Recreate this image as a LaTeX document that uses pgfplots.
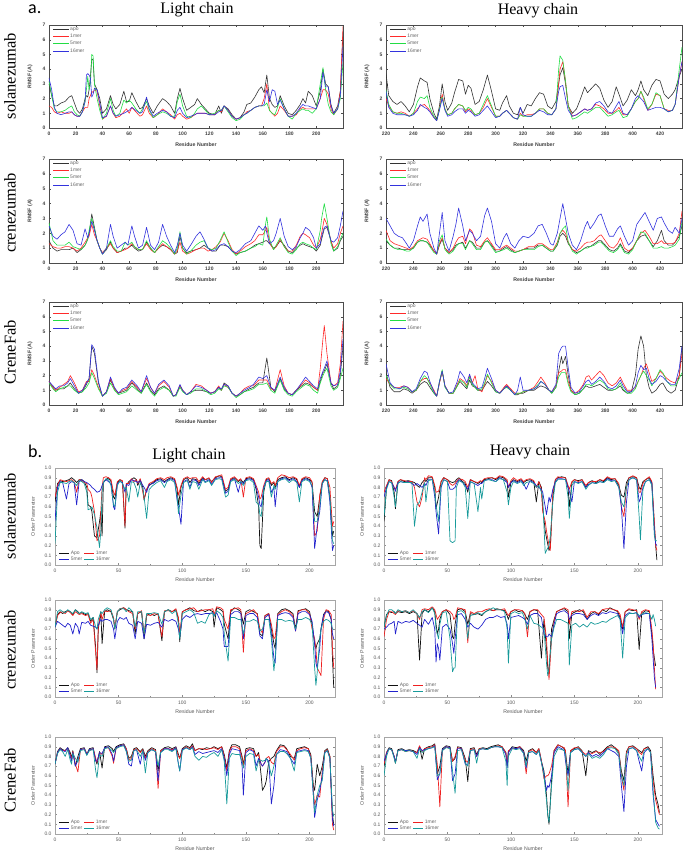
\documentclass[border=0pt]{standalone}
\usepackage{pgfplots}
\usepackage{pgfplotstable}
\pgfplotsset{compat=1.18}
\usepackage{fontspec}
\newfontfamily\fSerif{Liberation Serif}
\newfontfamily\fSans{Liberation Sans}
\newfontfamily\fCal{Carlito}
\definecolor{aApo}{HTML}{333333}
\definecolor{aMa}{HTML}{FF2A2A}
\definecolor{aMb}{HTML}{22DD44}
\definecolor{aMc}{HTML}{3333DD}
\definecolor{bApo}{HTML}{111111}
\definecolor{bMa}{HTML}{EE2020}
\definecolor{bMb}{HTML}{2222CC}
\definecolor{bMc}{HTML}{179A9A}

\pgfplotsset{
 rmsf/.style={
  scale only axis, clip=true,
  ymin=0, ymax=7, ytick={0,1,2,3,4,5,6,7},
  axis line style={draw=black!70, line width=0.4pt},
  tick style={draw=black!70, line width=0.4pt},
  major tick length=1.8pt, tick align=inside,
  tick label style={font=\fSans\bfseries\fontsize{5}{6}\selectfont, text=black!75},
  /pgf/number format/assume math mode=true,
  xlabel={Residue Number}, ylabel={RMSF (A)},
  label style={font=\fSans\bfseries\fontsize{5.2}{6}\selectfont, text=black!75},
  ylabel style={at={(axis description cs:0,0.5)}, anchor=center, yshift=19pt},
  xlabel style={at={(axis description cs:0.5,0)}, anchor=center, yshift=-17pt},
  legend style={at={(axis description cs:0.012,0.985)}, anchor=north west, draw=none, fill=none,
    inner sep=0pt, row sep=1.2pt, font=\fSans\fontsize{5}{5.5}\selectfont,
    nodes={text=black!60, inner sep=0.6pt}},
  legend cell align=left,
  legend image code/.code={\draw[##1, line width=0.9pt] (0pt,0pt) -- (16pt,0pt);},
  every axis plot/.append style={line width=0.6pt, line join=round},
 },
 ordp/.style={
  scale only axis, clip=true,
  ymin=0, ymax=1, ytick={0,0.1,0.2,0.3,0.4,0.5,0.6,0.7,0.8,0.9,1},
  yticklabel style={/pgf/number format/.cd, fixed, fixed zerofill, precision=1},
  xtick={0,50,100,150,200}, minor xtick={25,75,125,175},
  axis line style={draw=black!35, line width=0.4pt},
  tick style={draw=black!45, line width=0.4pt},
  major tick length=2pt, minor tick length=1.2pt, tick align=inside,
  tick label style={font=\fSans\fontsize{5}{6}\selectfont, text=black!65},
  /pgf/number format/assume math mode=true,
  xlabel={Residue Number}, ylabel={Order Parameter},
  label style={font=\fSans\fontsize{5.2}{6}\selectfont, text=black!65},
  ylabel style={at={(axis description cs:0,0.5)}, anchor=center, yshift=22pt},
  xlabel style={at={(axis description cs:0.5,0)}, anchor=center, yshift=-15pt},
  legend columns=2,
  legend style={at={(axis description cs:0.012,0.025)}, anchor=south west, draw=none, fill=none,
    inner sep=0pt, row sep=0pt, column sep=0.8pt, font=\fSans\fontsize{5}{5.5}\selectfont,
    nodes={text=black!60, inner sep=0.6pt}},
  legend cell align=left,
  legend image code/.code={\draw[##1, line width=0.9pt] (0pt,0pt) -- (10pt,0pt);},
  every axis plot/.append style={line width=0.7pt, line join=round},
 },
}

\newcommand\aplots[1]{%
\addplot[aApo] table[x=x,y=a]{#1};\addlegendentry{apo}
\addplot[aMa] table[x=x,y=b]{#1};\addlegendentry{1mer}
\addplot[aMb] table[x=x,y=c]{#1};\addlegendentry{5mer}
\addplot[aMc] table[x=x,y=d]{#1};\addlegendentry{16mer}}
\newcommand\bplots[1]{%
\addplot[bApo] table[x=x,y=a]{#1};\addlegendentry{Apo}
\addplot[bMa] table[x=x,y=b]{#1};\addlegendentry{1mer}
\addplot[bMb] table[x=x,y=c]{#1};\addlegendentry{5mer}
\addplot[bMc] table[x=x,y=d]{#1};\addlegendentry{16mer}}

\pgfplotstableread{
x a b c d
0 3.0 1.5 3.2 3.4
2 2.2 1.4 2.2 2.6
4 1.5 1.1 1.3 1.4
6 1.5 1.0 1.1 1.0
9 1.7 1.1 1.1 0.9
12 1.8 1.0 1.2 1.0
15 2.1 1.0 1.4 1.1
17 2.2 1.1 1.5 1.1
19 1.7 0.9 1.1 0.9
21 1.2 0.8 0.9 0.8
23 1.0 0.8 0.8 0.8
25 1.3 1.1 1.1 1.1
27 2.0 1.4 1.8 1.8
28 2.2 1.4 2.6 3.6
29 2.1 1.4 3.5 3.7
30 2.6 2.0 2.6 3.6
31 3.5 2.2 3.0 3.4
32 4.7 2.5 5.0 2.1
33 4.6 2.4 4.9 2.3
34 3.0 2.6 3.0 2.7
36 2.6 2.5 2.0 2.6
38 2.0 1.5 1.2 1.7
40 1.0 0.6 0.6 0.7
43 1.3 0.8 1.0 0.8
46 2.2 1.5 2.0 1.5
48 1.6 1.0 1.2 1.0
50 1.3 0.7 0.8 0.8
53 1.6 0.8 1.0 0.9
56 2.5 1.1 1.9 1.0
58 1.8 1.3 1.7 1.1
60 1.8 1.0 1.9 1.2
62 2.4 1.4 1.7 1.4
65 1.8 1.1 1.3 1.2
68 1.3 0.8 1.0 1.0
70 1.4 0.9 1.3 1.1
73 2.0 1.5 1.8 2.1
75 1.5 1.0 1.2 1.3
78 1.0 0.7 0.7 0.8
81 1.5 0.9 0.9 1.0
85 2.0 1.3 1.1 1.2
88 1.8 1.1 1.0 1.1
91 1.5 0.9 0.8 0.8
94 1.0 0.6 0.8 0.7
96 2.0 0.9 1.8 1.2
98 2.7 1.0 2.3 1.4
100 2.0 0.8 1.5 1.0
103 1.2 0.6 0.8 0.7
106 1.4 0.7 0.7 0.8
109 1.6 0.9 1.0 0.9
111 2.0 1.0 1.3 1.0
114 1.6 1.0 1.5 1.0
117 1.3 1.0 1.2 1.0
120 1.0 0.9 0.9 0.9
124 0.9 0.9 1.0 0.9
127 1.5 1.2 1.2 1.1
129 1.0 1.1 1.2 1.2
131 1.5 1.5 1.5 1.5
134 1.3 1.2 1.1 1.2
137 0.9 0.8 0.7 0.8
140 0.6 0.6 0.5 0.6
143 0.7 0.7 0.6 0.7
146 1.1 0.9 0.9 0.9
148 1.6 1.1 1.0 1.0
151 1.7 1.2 1.2 1.2
154 2.1 1.4 1.4 1.4
157 2.6 1.5 1.5 1.5
159 2.8 1.5 1.5 1.5
161 2.4 2.0 1.5 1.6
163 3.6 3.0 1.7 2.6
165 2.0 1.2 1.2 1.8
167 1.6 1.0 1.0 2.6
169 1.4 0.8 0.9 2.5
171 1.5 1.0 1.4 1.6
173 2.2 1.5 2.0 1.9
176 1.5 1.2 1.3 1.3
179 1.0 0.8 0.8 0.8
182 0.9 0.8 0.6 0.8
185 1.2 0.9 1.0 1.0
188 1.6 1.3 1.2 1.4
190 2.0 1.4 1.3 1.6
192 1.7 1.3 1.2 1.5
194 2.5 1.3 1.2 1.5
197 2.2 1.3 1.0 1.4
200 1.5 1.3 1.3 1.3
203 2.5 2.0 3.0 2.0
205 4.0 2.6 4.1 3.8
207 3.0 2.6 2.6 2.8
209 2.8 2.3 1.6 2.8
211 1.6 1.3 1.1 1.5
213 1.0 0.9 0.9 1.0
216 1.5 1.3 1.3 1.3
218 2.5 2.5 2.0 2.2
220 6.5 6.9 4.5 5.5
}\tAaL

\pgfplotstableread{
x a b c d
220 3.7 2.0 2.6 2.5
222 2.2 1.5 1.6 1.4
225 1.8 1.1 1.1 1.0
228 1.6 1.0 1.0 0.9
231 1.8 1.1 1.0 0.9
234 1.5 1.0 0.9 0.9
237 1.1 0.8 0.8 0.8
240 1.6 1.0 1.0 0.9
243 2.8 1.3 1.8 1.2
245 3.4 1.5 2.1 1.6
248 3.2 1.6 2.0 1.4
250 3.1 1.4 2.2 1.3
252 2.0 1.2 1.4 1.1
255 1.0 0.7 0.8 0.7
257 0.6 0.5 0.5 0.5
259 1.5 1.3 1.3 1.2
261 3.0 2.3 2.1 2.0
263 1.8 1.3 1.3 1.2
265 1.2 0.9 0.9 0.8
268 1.7 1.0 1.0 0.9
270 2.4 1.3 1.3 1.1
273 3.3 1.6 1.6 1.3
276 3.2 1.5 1.5 1.3
278 2.3 1.1 1.2 1.0
280 2.9 1.3 1.4 1.2
282 2.7 1.2 1.3 1.1
285 1.6 0.9 0.9 0.8
288 1.8 1.0 1.0 0.9
291 2.6 1.4 1.6 1.2
294 3.6 2.0 2.2 1.5
297 2.5 1.4 1.5 1.1
300 1.3 0.8 0.8 0.7
303 1.2 0.8 0.8 0.8
305 1.7 1.0 1.0 1.0
308 2.2 1.2 1.2 1.2
310 1.5 1.0 1.0 1.0
313 1.0 0.7 0.7 0.7
316 0.9 0.6 0.6 0.6
318 1.4 1.0 0.9 1.4
320 1.0 0.8 0.8 0.9
323 1.6 0.9 0.8 0.8
326 1.5 0.9 0.8 0.8
329 2.0 1.0 1.0 1.0
332 2.4 1.3 1.3 1.2
335 2.3 1.3 1.3 1.1
338 1.5 1.0 1.0 0.9
341 1.3 0.9 0.9 0.9
344 1.8 1.3 1.3 1.3
346 3.0 3.0 4.0 2.5
347 3.6 4.0 4.9 2.8
349 4.1 4.5 4.6 2.9
351 3.0 3.2 3.2 2.0
353 1.5 1.5 1.5 1.2
356 1.0 0.8 0.6 0.8
359 1.3 0.9 0.7 0.9
362 2.0 1.1 0.9 1.1
365 2.8 1.3 1.1 1.3
367 2.4 1.2 1.0 1.2
370 2.7 1.3 1.2 1.3
373 3.0 1.6 1.4 1.7
376 2.7 1.5 1.4 1.8
379 1.9 1.3 1.1 1.5
382 1.4 1.0 0.8 1.1
385 1.8 1.0 0.9 1.0
388 2.8 1.2 1.1 1.5
390 2.3 1.4 1.2 1.8
393 1.5 0.9 0.7 1.0
396 1.9 0.9 0.8 0.9
399 2.6 1.3 1.3 1.3
402 2.2 1.8 1.8 2.0
404 2.6 2.0 2.0 2.2
406 3.2 2.5 2.5 2.0
408 2.6 2.0 2.1 1.8
411 2.2 1.2 1.3 1.2
414 2.9 1.6 1.6 1.3
417 3.3 2.3 2.4 1.4
420 3.2 2.2 2.2 1.4
423 2.3 1.3 1.3 1.3
426 2.0 1.2 1.1 1.1
429 2.3 1.2 1.2 1.2
431 2.6 1.6 1.6 1.6
434 3.5 3.5 4.0 3.5
436 4.0 4.5 5.5 4.5
}\tAaH

\pgfplotstableread{
x a b c d
0 1.5 1.3 2.7 2.5
3 1.0 1.1 1.5 1.8
6 0.8 1.0 1.2 1.6
9 0.9 1.0 1.2 1.9
12 0.9 1.1 1.2 2.1
15 0.9 1.1 1.4 2.6
18 1.0 1.0 1.1 2.2
21 0.7 0.8 1.0 1.3
24 0.9 1.0 0.9 1.2
27 1.2 1.4 1.2 2.3
29 1.6 1.7 1.6 1.7
30 2.0 1.8 2.2 2.0
32 3.3 2.6 3.0 2.8
34 2.4 1.9 2.3 2.2
36 1.5 1.5 1.5 1.5
38 1.0 1.0 1.0 1.0
40 0.6 0.7 0.6 0.6
43 0.9 1.0 1.0 1.0
46 1.4 1.3 1.5 2.6
48 1.0 1.0 1.1 1.8
51 0.7 0.7 0.8 1.0
54 0.8 0.8 0.8 1.2
57 1.0 0.9 1.4 1.4
59 1.0 1.0 1.2 1.2
62 1.2 1.3 1.4 2.5
64 1.0 1.1 1.1 1.8
67 0.8 0.9 0.9 1.0
70 0.9 0.9 0.9 1.2
73 1.4 1.3 1.5 2.4
76 1.0 0.9 1.0 1.2
79 0.7 0.7 0.7 0.9
82 1.0 1.0 1.1 1.4
85 1.2 1.3 1.5 2.6
88 1.1 1.1 1.3 1.8
91 0.9 0.9 1.0 1.2
94 0.6 0.6 0.6 0.7
96 0.7 0.8 1.0 1.2
98 1.8 1.4 2.1 2.0
100 1.0 0.8 1.0 1.2
103 0.7 0.6 0.6 0.8
106 0.8 0.7 0.8 1.2
110 0.9 0.9 1.2 1.8
113 1.0 1.0 1.4 2.1
116 1.2 1.0 1.5 1.6
119 1.0 0.8 1.0 1.0
122 0.8 0.9 0.9 0.8
125 0.8 1.1 1.0 0.9
128 1.2 1.4 1.5 1.2
131 1.2 2.0 2.1 1.3
134 1.1 1.5 1.4 1.1
137 0.8 0.9 0.8 0.8
140 0.6 0.6 0.5 0.7
143 0.7 0.8 0.7 0.9
147 0.8 1.1 0.8 1.3
151 1.0 1.3 1.0 1.5
154 1.2 1.5 1.1 2.0
157 1.3 1.9 1.3 2.5
160 1.4 1.9 1.2 2.2
162 1.5 2.2 2.6 2.5
163 1.5 2.4 3.1 2.0
165 1.3 1.4 1.6 1.3
168 1.0 0.9 0.9 1.5
170 1.1 1.1 1.2 2.0
173 1.5 1.6 1.7 3.0
176 1.2 1.1 1.1 1.8
179 0.8 0.8 0.7 1.1
182 0.7 0.8 0.6 0.9
185 1.0 1.2 0.9 1.1
188 1.2 1.8 1.3 1.7
190 1.3 2.0 1.4 2.0
192 1.2 1.9 1.3 2.4
195 1.1 1.7 1.2 2.2
198 1.0 1.2 1.0 1.7
200 0.8 1.0 0.9 1.0
203 1.2 1.6 2.2 1.3
204 1.6 2.0 3.0 1.8
206 2.3 3.0 4.0 2.4
208 2.4 2.6 3.0 2.5
211 1.5 1.5 1.3 1.5
213 0.8 1.0 0.8 1.4
216 1.0 1.3 1.1 1.7
218 1.5 2.0 1.6 2.5
220 1.8 2.5 2.0 3.5
}\tAbL

\pgfplotstableread{
x a b c d
220 1.5 2.2 1.6 3.0
223 1.2 1.5 1.2 2.5
226 1.0 1.3 1.0 2.0
229 1.0 1.2 0.9 1.8
232 0.9 1.1 0.9 1.7
235 0.9 1.0 0.8 1.3
237 0.9 0.9 0.8 1.0
240 1.0 1.1 1.0 1.5
243 1.4 1.5 1.4 2.5
245 1.5 1.6 1.5 3.1
247 1.5 1.7 1.5 2.8
250 1.4 1.6 1.4 3.3
252 1.2 1.3 1.1 2.0
255 0.8 0.8 0.7 1.0
257 0.6 0.6 0.6 0.6
259 1.2 1.3 1.5 2.0
261 1.6 1.7 1.9 3.4
263 1.0 1.0 0.9 1.5
266 0.7 0.7 0.6 0.8
269 0.9 1.0 0.8 1.8
271 1.2 1.4 1.1 2.6
273 1.3 1.7 1.3 3.7
276 1.4 1.8 1.3 2.5
278 1.0 1.3 0.9 1.5
281 1.5 2.3 1.5 2.2
283 1.4 2.1 1.3 2.0
286 1.0 1.2 0.9 1.5
289 1.0 1.1 0.9 1.8
292 1.4 1.5 1.4 3.2
294 1.5 1.7 1.5 3.7
297 1.2 1.3 1.1 2.8
300 0.8 0.9 0.7 1.3
303 0.8 0.9 0.8 1.0
306 1.0 1.1 0.9 1.7
308 1.1 1.2 1.0 2.0
311 0.9 1.0 0.8 1.3
314 0.7 0.8 0.7 1.0
317 0.8 0.8 0.8 1.5
320 0.9 0.9 0.9 1.8
324 1.0 1.1 0.9 1.7
328 1.0 1.1 0.9 2.0
331 1.2 1.3 1.1 2.5
334 1.2 1.3 1.2 2.6
337 1.0 1.1 1.0 2.0
340 0.8 0.9 0.8 1.3
342 0.8 0.9 0.8 1.2
345 1.2 1.4 1.3 2.0
347 1.8 2.0 2.0 3.0
349 2.0 2.2 2.3 4.0
351 1.8 2.0 2.5 3.0
353 1.3 1.4 1.4 2.0
356 0.9 0.9 0.8 1.2
359 0.7 0.8 0.6 0.9
362 0.8 1.0 0.8 1.5
365 1.0 1.3 1.0 2.4
367 1.1 1.4 1.0 2.8
369 1.1 1.4 1.1 2.3
372 1.3 1.5 1.2 2.7
375 1.5 1.8 1.4 3.2
377 1.5 1.9 1.4 3.3
380 1.2 1.5 1.1 2.5
383 0.9 1.1 0.8 1.8
386 0.8 1.0 0.7 1.8
389 1.0 1.3 0.9 2.3
391 1.3 1.7 1.2 2.5
394 0.8 1.0 0.7 1.8
397 0.7 0.8 0.6 1.2
400 1.0 1.0 0.9 1.5
403 1.5 1.5 1.5 2.6
406 1.8 2.0 2.1 3.0
409 1.9 2.2 2.0 3.4
412 1.5 1.8 1.5 2.8
415 1.1 1.3 1.0 2.2
418 1.5 1.3 1.0 3.0
421 2.2 1.5 1.1 3.1
423 1.5 1.3 1.0 2.7
426 1.2 1.3 1.0 2.2
429 1.2 1.3 1.1 2.0
431 1.4 1.4 1.2 2.4
434 1.8 2.0 1.6 2.0
436 2.5 3.5 2.8 3.0
}\tAbH

\pgfplotstableread{
x a b c d
0 1.6 1.6 1.5 1.6
3 1.2 1.2 1.1 1.3
5 1.0 1.0 0.9 1.1
8 1.1 1.2 1.1 1.3
11 1.1 1.4 1.2 1.3
14 1.3 1.6 1.3 1.5
16 1.5 2.0 1.3 1.8
19 1.1 1.5 1.0 1.3
22 0.8 0.9 0.8 0.8
25 0.9 1.0 0.9 1.0
28 1.4 1.6 1.2 1.5
30 1.8 1.6 1.5 1.8
32 4.0 2.4 2.2 4.1
34 3.5 2.0 1.8 3.8
37 1.5 1.2 1.1 1.6
40 0.6 0.6 0.6 0.6
43 0.9 0.9 0.8 0.9
46 1.7 1.8 1.5 1.9
49 1.1 1.1 1.0 1.2
52 0.8 0.8 0.7 0.8
55 0.9 1.0 0.8 1.1
58 1.0 1.1 0.9 1.2
62 1.5 1.6 1.3 1.7
66 1.1 1.2 1.0 1.3
69 0.8 0.9 0.8 0.9
73 1.5 1.8 1.4 2.0
76 1.0 1.2 0.9 1.2
79 0.7 0.8 0.6 0.8
82 1.1 1.3 1.0 1.4
86 1.3 1.6 1.2 1.7
90 1.0 1.2 1.0 1.3
93 0.6 0.6 0.6 0.6
95 0.7 0.7 0.6 0.7
98 1.3 1.3 1.2 1.4
100 1.0 1.0 0.9 1.0
103 0.7 0.7 0.7 0.7
106 0.9 0.9 0.8 0.9
110 1.0 1.4 1.1 1.3
114 1.0 1.3 1.1 1.2
118 0.9 1.0 0.9 1.0
121 0.8 0.8 0.7 0.8
124 0.9 0.9 0.8 0.9
127 1.2 1.3 1.1 1.2
129 1.0 1.0 1.0 1.1
131 1.5 1.4 1.3 1.4
134 1.3 1.2 1.2 1.3
137 0.8 0.8 0.8 0.8
140 0.6 0.6 0.5 0.6
143 0.7 0.8 0.7 0.8
146 0.9 1.1 0.9 1.0
150 1.1 1.3 1.0 1.2
153 1.2 1.3 1.1 1.4
157 1.5 1.7 1.4 1.9
160 1.5 1.7 1.4 1.8
163 3.2 1.7 1.5 2.0
166 1.2 1.1 1.0 1.2
169 0.9 1.0 0.8 1.0
173 1.8 2.4 1.7 1.9
176 1.1 1.3 1.0 1.2
179 0.8 0.8 0.7 0.8
182 0.7 0.7 0.6 0.7
185 1.0 1.0 0.9 1.0
189 1.3 1.4 1.2 1.5
192 1.5 1.7 1.4 1.9
195 1.4 1.5 1.3 1.6
198 1.2 1.2 1.0 1.3
201 1.0 1.0 0.8 1.1
203 1.6 2.5 1.5 1.8
205 2.2 4.5 2.0 2.3
206 2.3 5.4 2.2 2.5
208 2.8 3.5 2.5 3.0
211 1.5 1.5 1.3 1.5
213 1.1 1.3 1.0 1.3
216 1.3 1.5 1.2 1.4
218 2.0 2.8 1.8 2.3
220 4.0 5.7 2.5 4.5
}\tAcL

\pgfplotstableread{
x a b c d
220 2.2 1.8 2.0 2.8
223 1.2 1.4 1.4 1.5
226 0.9 1.2 1.1 1.2
230 0.9 1.2 1.1 1.1
233 1.1 1.3 1.2 1.3
236 1.0 1.2 1.1 1.2
239 0.8 0.9 0.9 0.9
242 1.0 1.0 1.0 1.1
245 1.4 1.6 1.6 1.8
248 1.6 1.8 2.0 2.3
250 1.5 1.8 1.8 2.2
252 1.2 1.5 1.4 1.6
255 0.8 1.0 0.8 0.9
257 0.6 0.6 0.6 0.6
259 1.5 1.5 1.6 1.6
261 2.3 2.3 2.4 2.3
263 1.3 1.3 1.2 1.3
266 0.8 0.8 0.8 0.8
269 0.8 0.8 0.8 0.9
272 1.3 1.4 1.3 1.6
274 1.6 1.8 1.7 2.3
277 1.3 1.6 1.5 1.9
279 1.1 1.3 1.2 1.5
281 1.7 2.0 1.9 2.1
283 1.3 1.5 1.4 1.5
285 1.2 2.0 1.2 1.3
287 1.0 1.1 1.0 1.1
290 1.0 0.9 1.1 1.2
292 1.3 1.4 1.5 1.8
294 1.6 2.0 2.1 2.5
297 1.3 1.6 1.5 1.8
300 0.9 1.0 0.9 1.0
303 0.8 0.8 0.8 0.8
306 1.1 1.2 1.1 1.1
308 1.3 1.4 1.2 1.3
311 1.0 1.1 1.0 1.0
314 0.7 0.8 0.7 0.7
316 0.7 0.8 0.8 1.0
318 0.8 0.8 0.8 1.9
320 0.8 0.9 0.9 1.0
324 1.0 1.0 1.0 1.0
328 1.0 1.2 1.1 1.1
331 1.2 1.6 1.4 1.3
333 1.3 1.9 1.6 1.6
336 1.2 1.5 1.4 1.4
339 1.0 1.0 1.0 1.0
341 0.8 0.9 0.8 0.9
344 1.2 1.3 1.2 1.4
346 2.3 2.2 1.9 3.5
348 3.3 2.3 2.2 3.9
349 2.8 2.4 2.2 4.0
351 3.3 2.4 2.2 4.0
353 2.0 1.6 1.4 2.5
355 1.0 1.0 0.9 1.2
358 0.7 0.8 0.7 0.8
361 0.8 1.0 0.8 0.9
364 1.1 1.4 1.1 1.3
366 1.3 1.9 1.4 1.6
368 1.2 2.0 1.4 1.7
370 1.2 1.7 1.3 1.4
373 1.3 2.0 1.5 1.6
376 1.4 2.3 1.7 1.9
379 1.2 2.0 1.5 1.6
382 1.0 1.5 1.1 1.2
385 1.0 1.3 1.0 1.1
388 1.1 1.5 1.1 1.3
391 1.3 1.9 1.5 1.7
393 1.0 1.5 1.1 1.3
396 0.8 1.0 0.8 0.9
399 0.9 1.0 0.8 0.9
402 2.0 1.2 1.1 1.3
404 3.8 1.6 1.6 2.2
406 4.7 2.0 2.0 2.7
408 4.0 2.5 2.3 2.4
410 2.0 2.8 2.0 2.5
412 1.2 2.2 1.7 1.8
414 0.8 1.6 1.3 1.4
417 1.0 1.8 1.8 1.6
420 1.4 2.3 2.4 2.0
422 1.5 2.1 2.2 1.9
425 1.0 1.8 1.6 1.6
428 0.8 1.6 1.3 1.4
431 1.0 1.5 1.3 1.4
434 2.0 2.0 1.8 2.5
436 4.0 3.5 2.2 4.0
}\tAcH

\pgfplotstableread{
x a b c d
0 0.65 0.70 0.45 0.22
2 0.84 0.82 0.80 0.75
4 0.87 0.88 0.86 0.85
6 0.86 0.87 0.85 0.85
9 0.87 0.86 0.68 0.84
11 0.88 0.87 0.84 0.86
13 0.90 0.88 0.86 0.87
15 0.88 0.86 0.85 0.85
17 0.85 0.75 0.62 0.82
19 0.88 0.88 0.86 0.87
21 0.88 0.87 0.88 0.86
23 0.86 0.85 0.86 0.84
25 0.80 0.84 0.85 0.75
26 0.62 0.78 0.84 0.57
28 0.60 0.75 0.82 0.58
29 0.55 0.70 0.80 0.60
31 0.30 0.55 0.78 0.52
33 0.28 0.25 0.75 0.38
35 0.45 0.30 0.76 0.18
36 0.55 0.55 0.78 0.35
37 0.30 0.80 0.82 0.75
38 0.85 0.90 0.85 0.85
40 0.88 0.91 0.88 0.89
42 0.90 0.90 0.86 0.88
44 0.86 0.88 0.84 0.82
46 0.70 0.75 0.60 0.62
47 0.68 0.72 0.57 0.60
49 0.85 0.86 0.84 0.82
51 0.88 0.88 0.86 0.87
53 0.86 0.87 0.85 0.84
55 0.38 0.40 0.75 0.78
56 0.82 0.84 0.83 0.80
58 0.86 0.84 0.82 0.65
60 0.88 0.89 0.88 0.86
62 0.90 0.86 0.87 0.85
64 0.88 0.88 0.86 0.78
65 0.82 0.84 0.85 0.70
67 0.88 0.89 0.87 0.85
69 0.80 0.75 0.82 0.78
70 0.67 0.68 0.80 0.70
72 0.78 0.78 0.75 0.48
74 0.82 0.84 0.83 0.78
77 0.85 0.86 0.84 0.82
80 0.88 0.89 0.87 0.85
83 0.89 0.90 0.88 0.87
86 0.86 0.88 0.85 0.80
88 0.88 0.90 0.87 0.86
91 0.90 0.91 0.89 0.88
94 0.88 0.89 0.87 0.85
96 0.78 0.80 0.66 0.70
97 0.62 0.72 0.60 0.53
99 0.80 0.82 0.42 0.72
101 0.88 0.89 0.86 0.85
104 0.90 0.91 0.88 0.87
106 0.85 0.89 0.80 0.78
108 0.89 0.90 0.88 0.86
111 0.88 0.90 0.87 0.85
113 0.84 0.86 0.82 0.78
116 0.90 0.91 0.89 0.88
118 0.88 0.88 0.86 0.85
121 0.89 0.90 0.88 0.87
123 0.86 0.85 0.83 0.82
126 0.90 0.91 0.89 0.88
129 0.92 0.92 0.90 0.89
131 0.91 0.93 0.90 0.88
134 0.76 0.78 0.74 0.70
136 0.78 0.80 0.76 0.72
138 0.88 0.89 0.87 0.86
141 0.90 0.91 0.89 0.88
144 0.86 0.87 0.75 0.84
146 0.88 0.89 0.86 0.86
148 0.85 0.70 0.84 0.82
150 0.89 0.90 0.88 0.87
153 0.90 0.91 0.89 0.88
156 0.88 0.89 0.87 0.85
158 0.78 0.82 0.80 0.65
160 0.60 0.75 0.70 0.62
161 0.20 0.68 0.62 0.52
162 0.17 0.70 0.60 0.50
164 0.75 0.82 0.80 0.78
166 0.88 0.89 0.87 0.86
168 0.89 0.90 0.88 0.86
170 0.82 0.84 0.75 0.70
172 0.85 0.86 0.80 0.82
173 0.80 0.82 0.60 0.78
175 0.88 0.90 0.86 0.86
178 0.90 0.93 0.89 0.88
181 0.91 0.92 0.90 0.89
184 0.88 0.90 0.87 0.85
187 0.90 0.91 0.89 0.88
190 0.88 0.89 0.86 0.85
192 0.80 0.82 0.80 0.65
194 0.88 0.89 0.87 0.86
197 0.90 0.91 0.89 0.88
200 0.88 0.90 0.87 0.86
202 0.85 0.86 0.80 0.82
204 0.55 0.30 0.17 0.45
206 0.50 0.35 0.40 0.45
208 0.70 0.72 0.55 0.60
210 0.85 0.86 0.84 0.84
212 0.90 0.90 0.88 0.88
214 0.89 0.89 0.87 0.86
216 0.70 0.80 0.65 0.70
218 0.30 0.40 0.15 0.25
219 0.35 0.45 0.20 0.22
}\tBaL

\pgfplotstableread{
x a b c d
0 0.45 0.75 0.70 0.50
2 0.80 0.82 0.80 0.78
4 0.88 0.88 0.86 0.86
6 0.87 0.86 0.85 0.85
8 0.75 0.80 0.80 0.70
9 0.58 0.78 0.76 0.60
11 0.86 0.86 0.85 0.84
13 0.88 0.88 0.86 0.86
16 0.86 0.87 0.85 0.85
19 0.87 0.86 0.86 0.85
22 0.86 0.86 0.84 0.85
24 0.85 0.80 0.82 0.40
26 0.82 0.65 0.84 0.62
28 0.80 0.60 0.82 0.65
30 0.85 0.70 0.80 0.75
32 0.88 0.90 0.84 0.85
33 0.86 0.88 0.82 0.65
35 0.90 0.92 0.88 0.87
38 0.90 0.91 0.88 0.88
40 0.80 0.82 0.70 0.75
41 0.58 0.75 0.55 0.62
43 0.70 0.76 0.32 0.45
45 0.86 0.86 0.80 0.82
47 0.90 0.90 0.88 0.88
50 0.88 0.88 0.86 0.86
52 0.86 0.84 0.78 0.25
54 0.85 0.82 0.78 0.23
56 0.86 0.84 0.80 0.25
57 0.88 0.86 0.84 0.80
59 0.90 0.89 0.88 0.87
62 0.86 0.88 0.85 0.85
64 0.84 0.86 0.82 0.80
66 0.75 0.80 0.78 0.48
68 0.88 0.88 0.86 0.86
71 0.86 0.86 0.84 0.84
74 0.84 0.85 0.82 0.55
76 0.86 0.87 0.84 0.80
77 0.85 0.86 0.84 0.68
79 0.88 0.89 0.87 0.87
82 0.89 0.90 0.88 0.88
85 0.90 0.90 0.88 0.87
88 0.88 0.89 0.86 0.86
91 0.91 0.92 0.90 0.89
94 0.90 0.91 0.88 0.88
97 0.86 0.88 0.85 0.75
98 0.70 0.80 0.80 0.62
100 0.85 0.87 0.85 0.80
102 0.88 0.90 0.87 0.86
105 0.86 0.87 0.85 0.84
108 0.88 0.89 0.87 0.86
110 0.85 0.86 0.84 0.82
112 0.87 0.88 0.78 0.85
115 0.88 0.89 0.87 0.86
118 0.86 0.87 0.85 0.84
120 0.65 0.80 0.82 0.80
122 0.86 0.86 0.80 0.82
124 0.80 0.78 0.78 0.75
125 0.60 0.55 0.75 0.70
127 0.35 0.45 0.60 0.12
128 0.28 0.35 0.52 0.15
130 0.15 0.20 0.70 0.20
131 0.18 0.15 0.65 0.30
133 0.70 0.75 0.78 0.65
135 0.88 0.88 0.86 0.85
137 0.90 0.91 0.89 0.88
140 0.91 0.90 0.89 0.88
143 0.90 0.90 0.88 0.88
145 0.80 0.82 0.80 0.70
146 0.60 0.78 0.76 0.48
148 0.85 0.86 0.65 0.82
150 0.88 0.88 0.86 0.86
153 0.87 0.86 0.85 0.84
156 0.88 0.88 0.86 0.86
159 0.80 0.82 0.80 0.78
161 0.85 0.85 0.83 0.82
164 0.87 0.86 0.85 0.85
167 0.85 0.86 0.84 0.84
170 0.88 0.88 0.86 0.86
173 0.86 0.87 0.85 0.85
176 0.90 0.91 0.89 0.88
179 0.88 0.89 0.87 0.86
182 0.89 0.89 0.87 0.87
185 0.82 0.84 0.80 0.80
187 0.72 0.60 0.60 0.65
189 0.70 0.50 0.17 0.60
191 0.85 0.80 0.65 0.80
193 0.90 0.90 0.88 0.88
196 0.91 0.92 0.90 0.90
199 0.90 0.90 0.88 0.88
201 0.80 0.75 0.65 0.50
202 0.78 0.75 0.68 0.26
204 0.86 0.84 0.80 0.78
206 0.88 0.88 0.86 0.86
209 0.90 0.91 0.88 0.88
211 0.85 0.86 0.84 0.82
213 0.40 0.45 0.35 0.30
214 0.20 0.20 0.22 0.25
215 0.05 0.15 0.20 0.25
}\tBaH

\pgfplotstableread{
x a b c d
0 0.72 0.72 0.72 0.72
2 0.85 0.84 0.78 0.88
4 0.88 0.87 0.76 0.90
6 0.86 0.88 0.74 0.88
8 0.88 0.86 0.72 0.87
10 0.89 0.89 0.76 0.90
12 0.88 0.87 0.74 0.88
14 0.85 0.84 0.65 0.86
16 0.90 0.88 0.76 0.90
18 0.88 0.86 0.72 0.87
19 0.86 0.85 0.65 0.86
21 0.87 0.86 0.77 0.88
24 0.85 0.84 0.76 0.86
26 0.86 0.85 0.78 0.87
28 0.78 0.76 0.74 0.80
30 0.82 0.80 0.73 0.82
32 0.50 0.45 0.72 0.72
33 0.25 0.28 0.70 0.70
34 0.70 0.72 0.74 0.80
36 0.88 0.87 0.80 0.88
37 0.55 0.80 0.78 0.86
39 0.88 0.89 0.80 0.90
41 0.90 0.88 0.80 0.92
44 0.88 0.89 0.78 0.90
46 0.80 0.82 0.70 0.80
47 0.70 0.72 0.60 0.70
49 0.88 0.88 0.78 0.88
51 0.90 0.91 0.82 0.91
54 0.92 0.92 0.80 0.91
56 0.90 0.90 0.82 0.88
58 0.89 0.88 0.76 0.92
61 0.88 0.86 0.74 0.88
63 0.65 0.70 0.60 0.72
65 0.86 0.86 0.78 0.88
68 0.88 0.89 0.76 0.88
70 0.60 0.65 0.60 0.65
72 0.84 0.85 0.75 0.86
75 0.86 0.84 0.74 0.86
78 0.84 0.86 0.76 0.87
81 0.86 0.85 0.77 0.86
84 0.58 0.62 0.72 0.75
86 0.88 0.89 0.80 0.88
89 0.90 0.89 0.78 0.90
92 0.88 0.88 0.80 0.86
95 0.90 0.91 0.78 0.89
97 0.80 0.82 0.70 0.75
98 0.57 0.65 0.62 0.60
100 0.88 0.88 0.80 0.86
103 0.90 0.90 0.84 0.88
106 0.92 0.91 0.82 0.90
109 0.89 0.92 0.85 0.87
112 0.88 0.88 0.86 0.76
115 0.90 0.89 0.85 0.78
118 0.88 0.90 0.86 0.76
121 0.90 0.90 0.86 0.85
124 0.88 0.91 0.87 0.87
125 0.72 0.85 0.84 0.83
127 0.92 0.93 0.87 0.89
130 0.90 0.92 0.78 0.86
132 0.88 0.90 0.70 0.82
133 0.75 0.80 0.52 0.65
136 0.60 0.70 0.52 0.37
138 0.88 0.90 0.85 0.82
141 0.92 0.91 0.88 0.82
144 0.90 0.92 0.88 0.80
146 0.88 0.90 0.86 0.80
148 0.75 0.46 0.60 0.65
150 0.88 0.86 0.84 0.78
153 0.90 0.88 0.86 0.78
156 0.88 0.90 0.86 0.80
159 0.86 0.85 0.82 0.78
161 0.65 0.70 0.63 0.68
163 0.63 0.66 0.60 0.70
165 0.84 0.84 0.82 0.80
168 0.86 0.86 0.85 0.80
170 0.70 0.75 0.65 0.60
172 0.55 0.60 0.40 0.27
173 0.50 0.62 0.35 0.40
175 0.86 0.85 0.84 0.80
178 0.90 0.88 0.86 0.80
181 0.91 0.90 0.87 0.78
184 0.89 0.88 0.86 0.79
187 0.86 0.84 0.82 0.78
189 0.70 0.68 0.68 0.70
191 0.89 0.88 0.86 0.80
194 0.90 0.90 0.88 0.80
197 0.91 0.90 0.88 0.82
200 0.88 0.86 0.85 0.80
202 0.75 0.70 0.78 0.75
204 0.55 0.60 0.55 0.30
205 0.50 0.50 0.35 0.12
206 0.55 0.30 0.30 0.25
208 0.60 0.25 0.50 0.60
209 0.70 0.22 0.70 0.70
211 0.85 0.80 0.84 0.78
213 0.89 0.90 0.88 0.80
215 0.88 0.89 0.87 0.79
217 0.80 0.85 0.80 0.76
218 0.40 0.50 0.65 0.70
219 0.10 0.30 0.60 0.70
}\tBbL

\pgfplotstableread{
x a b c d
0 0.72 0.62 0.70 0.72
2 0.85 0.80 0.72 0.84
4 0.88 0.88 0.75 0.90
6 0.87 0.88 0.76 0.90
8 0.88 0.86 0.78 0.88
9 0.86 0.85 0.65 0.86
11 0.88 0.89 0.78 0.90
14 0.87 0.88 0.76 0.88
17 0.88 0.89 0.78 0.89
20 0.86 0.87 0.77 0.87
23 0.88 0.89 0.79 0.90
26 0.86 0.86 0.76 0.86
28 0.38 0.80 0.74 0.82
30 0.86 0.90 0.72 0.88
32 0.90 0.91 0.80 0.90
35 0.88 0.90 0.75 0.87
38 0.92 0.93 0.82 0.92
40 0.88 0.90 0.70 0.86
41 0.75 0.85 0.36 0.70
42 0.65 0.80 0.55 0.65
43 0.70 0.82 0.50 0.60
44 0.80 0.84 0.38 0.75
46 0.88 0.88 0.72 0.87
49 0.90 0.90 0.75 0.88
52 0.85 0.88 0.70 0.60
54 0.62 0.85 0.55 0.26
55 0.60 0.80 0.45 0.30
56 0.75 0.82 0.60 0.30
58 0.90 0.92 0.85 0.88
61 0.91 0.91 0.86 0.89
64 0.88 0.90 0.80 0.86
66 0.75 0.56 0.72 0.60
68 0.86 0.88 0.76 0.84
71 0.85 0.86 0.72 0.85
74 0.86 0.88 0.70 0.87
77 0.84 0.88 0.74 0.85
80 0.88 0.90 0.80 0.88
83 0.90 0.91 0.82 0.90
86 0.89 0.89 0.82 0.92
89 0.91 0.90 0.84 0.90
92 0.90 0.90 0.82 0.90
95 0.89 0.91 0.83 0.88
97 0.84 0.86 0.75 0.70
98 0.80 0.84 0.60 0.35
100 0.88 0.88 0.82 0.86
103 0.90 0.90 0.83 0.88
106 0.88 0.90 0.84 0.86
109 0.89 0.89 0.82 0.87
111 0.85 0.86 0.80 0.80
113 0.80 0.62 0.75 0.70
115 0.88 0.88 0.84 0.84
118 0.90 0.90 0.86 0.76
121 0.89 0.90 0.86 0.75
124 0.40 0.85 0.82 0.72
126 0.80 0.82 0.65 0.70
128 0.50 0.60 0.62 0.35
129 0.30 0.35 0.62 0.22
130 0.25 0.18 0.65 0.30
132 0.70 0.60 0.62 0.60
134 0.80 0.78 0.75 0.72
136 0.88 0.88 0.86 0.80
139 0.90 0.90 0.88 0.80
142 0.91 0.92 0.89 0.78
145 0.88 0.90 0.86 0.76
146 0.60 0.75 0.80 0.33
148 0.86 0.88 0.84 0.74
151 0.88 0.89 0.86 0.76
154 0.90 0.88 0.86 0.72
157 0.88 0.90 0.85 0.75
160 0.80 0.82 0.80 0.72
163 0.86 0.88 0.84 0.77
166 0.88 0.88 0.86 0.75
169 0.85 0.86 0.84 0.76
172 0.90 0.90 0.87 0.78
175 0.88 0.91 0.86 0.77
178 0.92 0.91 0.88 0.80
181 0.90 0.90 0.87 0.82
184 0.88 0.89 0.86 0.84
186 0.82 0.85 0.80 0.80
188 0.70 0.72 0.65 0.40
190 0.88 0.88 0.84 0.82
193 0.90 0.91 0.87 0.86
196 0.89 0.90 0.86 0.86
199 0.90 0.89 0.87 0.87
201 0.49 0.80 0.82 0.84
203 0.86 0.88 0.85 0.85
206 0.89 0.90 0.86 0.87
209 0.88 0.89 0.86 0.86
211 0.65 0.70 0.60 0.80
212 0.50 0.55 0.40 0.85
213 0.40 0.30 0.20 0.80
214 0.32 0.08 0.10 0.73
}\tBbH

\pgfplotstableread{
x a b c d
0 0.72 0.72 0.72 0.72
2 0.85 0.84 0.84 0.83
4 0.89 0.88 0.88 0.87
6 0.87 0.86 0.86 0.85
8 0.86 0.86 0.85 0.80
10 0.89 0.88 0.89 0.87
12 0.84 0.82 0.80 0.76
13 0.78 0.77 0.75 0.72
14 0.86 0.85 0.84 0.83
16 0.70 0.72 0.70 0.78
18 0.80 0.64 0.76 0.74
20 0.88 0.87 0.87 0.86
23 0.89 0.88 0.88 0.87
25 0.82 0.83 0.82 0.81
27 0.88 0.86 0.87 0.86
30 0.89 0.88 0.88 0.87
32 0.76 0.78 0.75 0.65
33 0.72 0.74 0.75 0.58
35 0.85 0.84 0.84 0.82
37 0.68 0.82 0.83 0.80
39 0.90 0.89 0.89 0.88
42 0.91 0.89 0.90 0.89
45 0.88 0.80 0.82 0.86
46 0.85 0.73 0.75 0.84
48 0.90 0.88 0.89 0.88
51 0.92 0.91 0.91 0.90
54 0.93 0.92 0.92 0.91
56 0.88 0.88 0.86 0.85
58 0.78 0.76 0.72 0.75
60 0.80 0.78 0.70 0.76
62 0.88 0.87 0.86 0.86
64 0.89 0.88 0.87 0.87
67 0.85 0.84 0.72 0.80
69 0.88 0.87 0.86 0.86
71 0.80 0.78 0.76 0.63
73 0.86 0.85 0.84 0.84
76 0.89 0.88 0.87 0.87
79 0.87 0.86 0.85 0.85
81 0.65 0.47 0.55 0.70
83 0.86 0.86 0.84 0.84
86 0.89 0.88 0.88 0.87
89 0.90 0.88 0.88 0.87
92 0.88 0.87 0.86 0.85
95 0.90 0.89 0.89 0.88
97 0.82 0.80 0.72 0.72
98 0.78 0.78 0.65 0.65
100 0.88 0.87 0.87 0.86
103 0.91 0.90 0.89 0.89
106 0.89 0.88 0.87 0.87
108 0.93 0.91 0.90 0.89
110 0.86 0.86 0.82 0.80
113 0.88 0.88 0.85 0.76
116 0.87 0.88 0.83 0.80
119 0.89 0.87 0.84 0.79
122 0.88 0.88 0.85 0.82
125 0.90 0.89 0.86 0.84
128 0.88 0.87 0.84 0.80
131 0.90 0.90 0.88 0.87
133 0.82 0.80 0.78 0.75
135 0.68 0.65 0.60 0.31
137 0.86 0.85 0.82 0.78
139 0.92 0.90 0.88 0.83
142 0.92 0.90 0.87 0.82
145 0.90 0.88 0.86 0.82
147 0.80 0.78 0.70 0.75
148 0.72 0.70 0.40 0.68
150 0.88 0.86 0.84 0.80
153 0.89 0.88 0.87 0.83
156 0.88 0.86 0.85 0.82
158 0.80 0.80 0.70 0.65
160 0.84 0.82 0.78 0.76
162 0.60 0.72 0.72 0.76
163 0.45 0.70 0.70 0.75
165 0.50 0.74 0.74 0.76
166 0.55 0.78 0.78 0.78
168 0.75 0.80 0.75 0.72
170 0.78 0.74 0.31 0.60
172 0.80 0.72 0.50 0.70
174 0.86 0.85 0.82 0.82
177 0.92 0.90 0.87 0.85
180 0.91 0.90 0.86 0.85
182 0.88 0.87 0.85 0.83
185 0.80 0.82 0.78 0.78
188 0.78 0.76 0.72 0.65
190 0.88 0.86 0.85 0.84
193 0.89 0.88 0.86 0.85
196 0.90 0.89 0.87 0.86
199 0.88 0.88 0.86 0.85
201 0.82 0.80 0.78 0.78
203 0.50 0.45 0.40 0.40
204 0.45 0.30 0.17 0.22
206 0.72 0.40 0.35 0.40
208 0.60 0.38 0.45 0.50
210 0.70 0.65 0.60 0.55
212 0.86 0.85 0.84 0.84
214 0.88 0.87 0.86 0.86
216 0.80 0.80 0.78 0.78
218 0.20 0.10 0.15 0.25
219 0.10 0.04 0.08 0.18
}\tBcL

\pgfplotstableread{
x a b c d
0 0.70 0.72 0.75 0.60
2 0.84 0.84 0.83 0.80
4 0.89 0.88 0.88 0.88
6 0.88 0.87 0.87 0.87
8 0.80 0.80 0.80 0.78
9 0.73 0.74 0.74 0.73
11 0.87 0.86 0.86 0.86
14 0.88 0.87 0.87 0.87
17 0.86 0.85 0.86 0.85
20 0.87 0.86 0.86 0.86
23 0.86 0.85 0.85 0.85
26 0.84 0.84 0.82 0.78
28 0.90 0.91 0.89 0.88
30 0.77 0.85 0.86 0.84
32 0.88 0.88 0.87 0.86
35 0.90 0.89 0.88 0.88
38 0.91 0.90 0.89 0.89
40 0.93 0.92 0.91 0.90
42 0.62 0.72 0.56 0.60
44 0.70 0.28 0.62 0.62
46 0.88 0.86 0.87 0.86
49 0.91 0.90 0.90 0.89
52 0.90 0.88 0.89 0.88
54 0.75 0.75 0.55 0.65
56 0.78 0.80 0.62 0.42
58 0.90 0.89 0.88 0.86
61 0.89 0.88 0.88 0.87
64 0.78 0.76 0.72 0.73
66 0.54 0.74 0.72 0.70
68 0.88 0.87 0.86 0.86
71 0.89 0.88 0.87 0.87
73 0.82 0.80 0.80 0.73
75 0.88 0.88 0.87 0.87
78 0.89 0.88 0.88 0.88
81 0.88 0.87 0.87 0.87
84 0.90 0.89 0.89 0.89
87 0.91 0.90 0.90 0.90
90 0.92 0.91 0.90 0.90
93 0.90 0.90 0.89 0.89
96 0.84 0.84 0.82 0.75
97 0.70 0.72 0.68 0.50
98 0.85 0.86 0.84 0.80
101 0.90 0.88 0.89 0.88
104 0.89 0.88 0.88 0.87
107 0.90 0.90 0.89 0.88
110 0.86 0.84 0.84 0.83
112 0.75 0.62 0.68 0.70
114 0.86 0.85 0.84 0.84
117 0.88 0.87 0.85 0.85
120 0.84 0.84 0.82 0.82
122 0.88 0.88 0.86 0.86
124 0.75 0.76 0.74 0.74
126 0.65 0.57 0.62 0.60
128 0.40 0.60 0.45 0.35
129 0.20 0.60 0.50 0.20
130 0.10 0.62 0.48 0.12
132 0.55 0.70 0.60 0.50
134 0.86 0.86 0.84 0.80
137 0.92 0.92 0.90 0.88
140 0.90 0.90 0.88 0.87
142 0.88 0.89 0.86 0.86
143 0.84 0.86 0.75 0.82
145 0.62 0.28 0.60 0.45
147 0.86 0.86 0.84 0.84
150 0.88 0.89 0.87 0.87
153 0.90 0.89 0.88 0.88
156 0.86 0.85 0.84 0.84
159 0.60 0.82 0.80 0.80
161 0.86 0.84 0.84 0.83
164 0.84 0.83 0.80 0.78
167 0.86 0.85 0.82 0.80
170 0.82 0.84 0.80 0.78
173 0.86 0.85 0.84 0.82
176 0.90 0.89 0.88 0.88
179 0.92 0.90 0.86 0.89
182 0.89 0.89 0.84 0.88
185 0.84 0.86 0.80 0.82
187 0.65 0.60 0.50 0.60
189 0.55 0.45 0.23 0.50
191 0.85 0.84 0.70 0.82
193 0.90 0.90 0.88 0.88
196 0.91 0.90 0.89 0.89
199 0.88 0.88 0.86 0.86
201 0.86 0.84 0.75 0.80
203 0.84 0.82 0.65 0.75
205 0.88 0.88 0.84 0.86
208 0.90 0.89 0.88 0.88
210 0.86 0.84 0.84 0.84
212 0.60 0.55 0.40 0.45
214 0.40 0.35 0.15 0.12
216 0.30 0.25 0.10 0.06
217 0.22 0.20 0.08 0.05
}\tBcH

\begin{document}
\begin{tikzpicture}
\path[use as bounding box] (0pt,0pt) rectangle (683pt,-852pt);
% headings
\node[font=\fCal\fontsize{18}{18}\selectfont, anchor=base west, inner sep=0pt] at (28pt,-13pt) {a.};
\node[font=\fCal\fontsize{18}{18}\selectfont, anchor=base west, inner sep=0pt] at (28pt,-457pt) {b.};
\node[font=\fSerif\fontsize{16}{16}\selectfont] at (197pt,-10pt) {Light chain};
\node[font=\fSerif\fontsize{16}{16}\selectfont] at (538pt,-11pt) {Heavy chain};
\node[font=\fSerif\fontsize{16}{16}\selectfont] at (189pt,-456pt) {Light chain};
\node[font=\fSerif\fontsize{16}{16}\selectfont] at (530pt,-452pt) {Heavy chain};
\foreach \yy/\nm in {76/solanezumab,213/crenezumab,352/CreneFab,516/solanezumab,650/crenezumab,780/CreneFab}{
  \node[font=\fSerif\fontsize{16.5}{16.5}\selectfont, rotate=90] at (10pt,-\yy pt) {\nm};
}
% ---- a panels
\begin{axis}[rmsf, at={(49pt,-25pt)}, anchor=north west, width=294pt, height=103pt, xmin=0, xmax=220, xtick={0,20,...,200}]
\aplots{\tAaL}
\end{axis}
\begin{axis}[rmsf, at={(386pt,-25pt)}, anchor=north west, width=296pt, height=103pt, xmin=220, xmax=436, xtick={220,240,...,420}]
\aplots{\tAaH}
\end{axis}
\begin{axis}[rmsf, at={(49pt,-159pt)}, anchor=north west, width=294pt, height=104pt, xmin=0, xmax=220, xtick={0,20,...,200}]
\aplots{\tAbL}
\end{axis}
\begin{axis}[rmsf, at={(386pt,-159pt)}, anchor=north west, width=296pt, height=104pt, xmin=220, xmax=436, xtick={220,240,...,420}]
\aplots{\tAbH}
\end{axis}
\begin{axis}[rmsf, at={(49pt,-302pt)}, anchor=north west, width=294pt, height=103pt, xmin=0, xmax=220, xtick={0,20,...,200}]
\aplots{\tAcL}
\end{axis}
\begin{axis}[rmsf, at={(386pt,-302pt)}, anchor=north west, width=296pt, height=103pt, xmin=220, xmax=436, xtick={220,240,...,420}]
\aplots{\tAcH}
\end{axis}
% ---- b panels
\begin{axis}[ordp, at={(55pt,-468pt)}, anchor=north west, width=280pt, height=97pt, xmin=0, xmax=220]
\bplots{\tBaL}
\end{axis}
\begin{axis}[ordp, at={(384pt,-468pt)}, anchor=north west, width=278pt, height=97pt, xmin=0, xmax=219]
\bplots{\tBaH}
\end{axis}
\begin{axis}[ordp, at={(55pt,-600pt)}, anchor=north west, width=280pt, height=97pt, xmin=0, xmax=220]
\bplots{\tBbL}
\end{axis}
\begin{axis}[ordp, at={(384pt,-600pt)}, anchor=north west, width=278pt, height=97pt, xmin=0, xmax=219]
\bplots{\tBbH}
\end{axis}
\begin{axis}[ordp, at={(55pt,-737pt)}, anchor=north west, width=280pt, height=97pt, xmin=0, xmax=220]
\bplots{\tBcL}
\end{axis}
\begin{axis}[ordp, at={(384pt,-737pt)}, anchor=north west, width=278pt, height=97pt, xmin=0, xmax=219]
\bplots{\tBcH}
\end{axis}
\end{tikzpicture}
\end{document}
